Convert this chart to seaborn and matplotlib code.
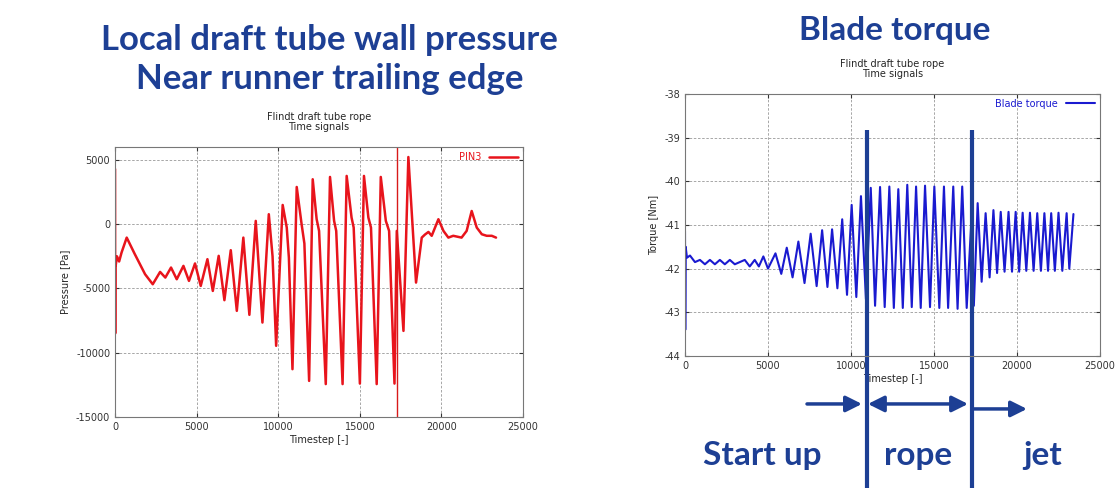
import matplotlib.pyplot as plt
import matplotlib.transforms as mtransforms
import seaborn as sns

sns.set_style("ticks")
plt.rcParams['font.family'] = ['DejaVu Sans']
plt.rcParams['axes.unicode_minus'] = False

# Local draft tube wall pressure (PIN3)
press_t = [0, 8, 15, 40, 120, 250, 400, 715, 1200, 1840, 2310, 2760, 3080, 3430, 3780,
           4190, 4530, 4900, 5250, 5660, 5990, 6350, 6700, 7090, 7460, 7860, 8230, 8620,
           9030, 9420, 9650, 9870, 10270, 10520, 10650, 10870, 11130, 11430, 11600, 11890,
           12110, 12350, 12500, 12910, 13170, 13420, 13550, 13940, 14190, 14490, 14620,
           15000, 15250, 15520, 15680, 16030, 16280, 16590, 16790, 17120, 17260, 17670,
           17970, 18440, 18790, 18990, 19200, 19400, 19810, 20120, 20420, 20720, 21230,
           21540, 21850, 22160, 22470, 22770, 23080, 23340]
press_v = [4300, -8500, -2600, -3200, -2500, -2900, -2200, -1040, -2300, -3890, -4670, -3710,
           -4150, -3370, -4280, -3240, -4410, -3050, -4800, -2720, -5190, -2460, -5910, -2020,
           -6740, -1040, -7050, 260, -7650, 780, -2500, -9460, 1500, -260, -2600, -11280,
           2900, 0, -1500, -12190, 3500, 400, -520, -12440, 3680, 260, -520, -12440, 3760,
           520, -260, -12400, 3760, 520, -260, -12440, 3680, 260, -520, -12400, -520, -8300,
           5230, -4540, -1040, -800, -600, -900, 390, -520, -1040, -900, -1040, -520, 1030,
           -260, -780, -900, -900, -1040]
press_marker_t = 17300  # vertical red line

# Blade torque (start up / rope / jet)
startup_t = [0, 15, 40, 120, 300, 600, 900, 1200, 1500, 1800, 2100, 2400, 2700, 3000,
             3300, 3600, 3900, 4200, 4450, 4720, 5000, 5450, 5800, 6130, 6480, 6830, 7200,
             7570, 7930, 8260, 8580, 8860, 9180, 9470, 9760, 10040, 10320, 10600]
startup_v = [-41.15, -43.4, -41.5, -41.75, -41.7, -41.85, -41.8, -41.9, -41.8, -41.9, -41.8,
             -41.9, -41.8, -41.9, -41.85, -41.8, -41.95, -41.8, -41.95, -41.72, -42.0,
             -41.65, -42.12, -41.52, -42.2, -41.38, -42.33, -41.2, -42.4, -41.12, -42.42,
             -41.1, -42.45, -40.87, -42.6, -40.54, -42.65, -40.34]
rope_t = [10900, 11190, 11450, 11750, 12030, 12310, 12580, 12850, 13120, 13390, 13660,
          13920, 14200, 14460, 14760, 15020, 15320, 15600, 15850, 16160, 16420, 16700, 16970]
rope_v = [-42.7, -40.15, -42.85, -40.13, -42.88, -40.12, -42.9, -40.18, -42.9, -40.08,
          -42.88, -40.12, -42.9, -40.1, -42.88, -40.12, -42.9, -40.12, -42.9, -40.12,
          -42.92, -40.12, -42.9]
jet_t = [17250, 17400, 17630, 17870, 18110, 18350, 18580, 18800, 19020, 19250, 19490, 19700,
         19920, 20130, 20340, 20560, 20780, 21000, 21220, 21440, 21650, 21870, 22060, 22280,
         22500, 22730, 22990, 23150, 23400]
jet_v = [-40.9, -42.85, -40.5, -42.3, -40.73, -42.2, -40.66, -42.1, -40.7, -42.07, -40.7,
         -42.07, -40.7, -42.07, -40.72, -42.05, -40.72, -42.05, -40.73, -42.05, -40.73,
         -42.05, -40.73, -42.05, -40.72, -42.05, -40.73, -42.0, -40.75]
torque_t = startup_t + rope_t + jet_t
torque_v = startup_v + rope_v + jet_v

# phase boundaries and labels
rope_start = 10960
jet_start = 17290
phases = ['Start up', 'rope', 'jet']
phase_x = [4640, 14040, 21570]

slide_blue = '#1d3f94'
head_font = ['Lato', 'DejaVu Sans']


def gnuplot_style(ax):
    ax.tick_params(direction='in', top=True, right=True, length=3, labelsize=7,
                   colors='#333333')
    ax.grid(True, color='#999999', linestyle=(0, (3, 2)), linewidth=0.6)
    for s in ax.spines.values():
        s.set_visible(True)
        s.set_color('#777777')
        s.set_linewidth(0.8)


fig = plt.figure(figsize=(11.18, 4.88), dpi=100)

# left: pressure
ax1 = fig.add_axes([0.1029, 0.1455, 0.365, 0.553])
sns.lineplot(x=press_t, y=press_v, sort=False, estimator=None, color='#e8141c',
             linewidth=1.8, label='PIN3', ax=ax1)
ax1.axvline(press_marker_t, color='#d81a1a', linewidth=1.0)
ax1.set_xlim(0, 25000)
ax1.set_ylim(-15000, 6000)
ax1.set_xticks(range(0, 25001, 5000))
ax1.set_yticks(range(-15000, 5001, 5000))
ax1.set_xlabel('Timestep [-]', fontsize=7, labelpad=2)
ax1.set_ylabel('Pressure [Pa]', fontsize=7, labelpad=4)
ax1.set_title('Flindt draft tube rope\nTime signals', fontsize=7, pad=12, linespacing=1.0)
gnuplot_style(ax1)
leg1 = ax1.legend(loc='upper right', markerfirst=False, frameon=False, fontsize=7,
                  handlelength=3, borderaxespad=0.3, borderpad=0.2)
for t in leg1.get_texts():
    t.set_color('#e8141c')

# right: blade torque
ax2 = fig.add_axes([0.6127, 0.2705, 0.3712, 0.537])
sns.lineplot(x=torque_t, y=torque_v, sort=False, estimator=None, color='#1a1ad0',
             linewidth=1.5, label='Blade torque', ax=ax2)
ax2.set_xlim(0, 25000)
ax2.set_ylim(-44, -38)
ax2.set_xticks(range(0, 25001, 5000))
ax2.set_yticks(range(-44, -37))
ax2.set_xlabel('Timestep [-]', fontsize=7, labelpad=2)
ax2.set_ylabel('Torque [Nm]', fontsize=7, labelpad=4)
ax2.set_title('Flindt draft tube rope\nTime signals', fontsize=7, pad=12, linespacing=1.0)
gnuplot_style(ax2)
leg2 = ax2.legend(loc='upper right', markerfirst=False, frameon=False, fontsize=7,
                  handlelength=3, borderaxespad=0.3, borderpad=0.2)
for t in leg2.get_texts():
    t.set_color('#1a1ad0')

# phase markers below the torque plot
trans = mtransforms.blended_transform_factory(ax2.transData, ax2.transAxes)
for xb in (rope_start, jet_start):
    ax2.plot([xb, xb], [-0.51, 0.863], transform=trans, color=slide_blue, linewidth=3,
             clip_on=False, solid_capstyle='butt')
arrow_kw = dict(color=slide_blue, lw=2.5, mutation_scale=24, shrinkA=0, shrinkB=0)
ax2.annotate('', xy=(10660, -0.183), xytext=(7350, -0.183), xycoords=trans,
             textcoords=trans, arrowprops=dict(arrowstyle='-|>', **arrow_kw),
             annotation_clip=False)
ax2.annotate('', xy=(17050, -0.183), xytext=(11020, -0.183), xycoords=trans,
             textcoords=trans, arrowprops=dict(arrowstyle='<|-|>', **arrow_kw),
             annotation_clip=False)
ax2.annotate('', xy=(20600, -0.202), xytext=(17350, -0.202), xycoords=trans,
             textcoords=trans, arrowprops=dict(arrowstyle='-|>', **arrow_kw),
             annotation_clip=False)
for label, xp in zip(phases, phase_x):
    ax2.text(xp, -0.378, label, transform=trans, ha='center', va='center', fontsize=24,
             fontweight='bold', color=slide_blue, family=head_font, clip_on=False)

# slide headings
fig.text(0.295, 0.918, 'Local draft tube wall pressure', ha='center', va='center',
         fontsize=25, fontweight='bold', color=slide_blue, family=head_font)
fig.text(0.295, 0.838, 'Near runner trailing edge', ha='center', va='center',
         fontsize=25, fontweight='bold', color=slide_blue, family=head_font)
fig.text(0.80, 0.938, 'Blade torque', ha='center', va='center',
         fontsize=24, fontweight='bold', color=slide_blue, family=head_font)

fig.savefig('out.png', dpi=100)
